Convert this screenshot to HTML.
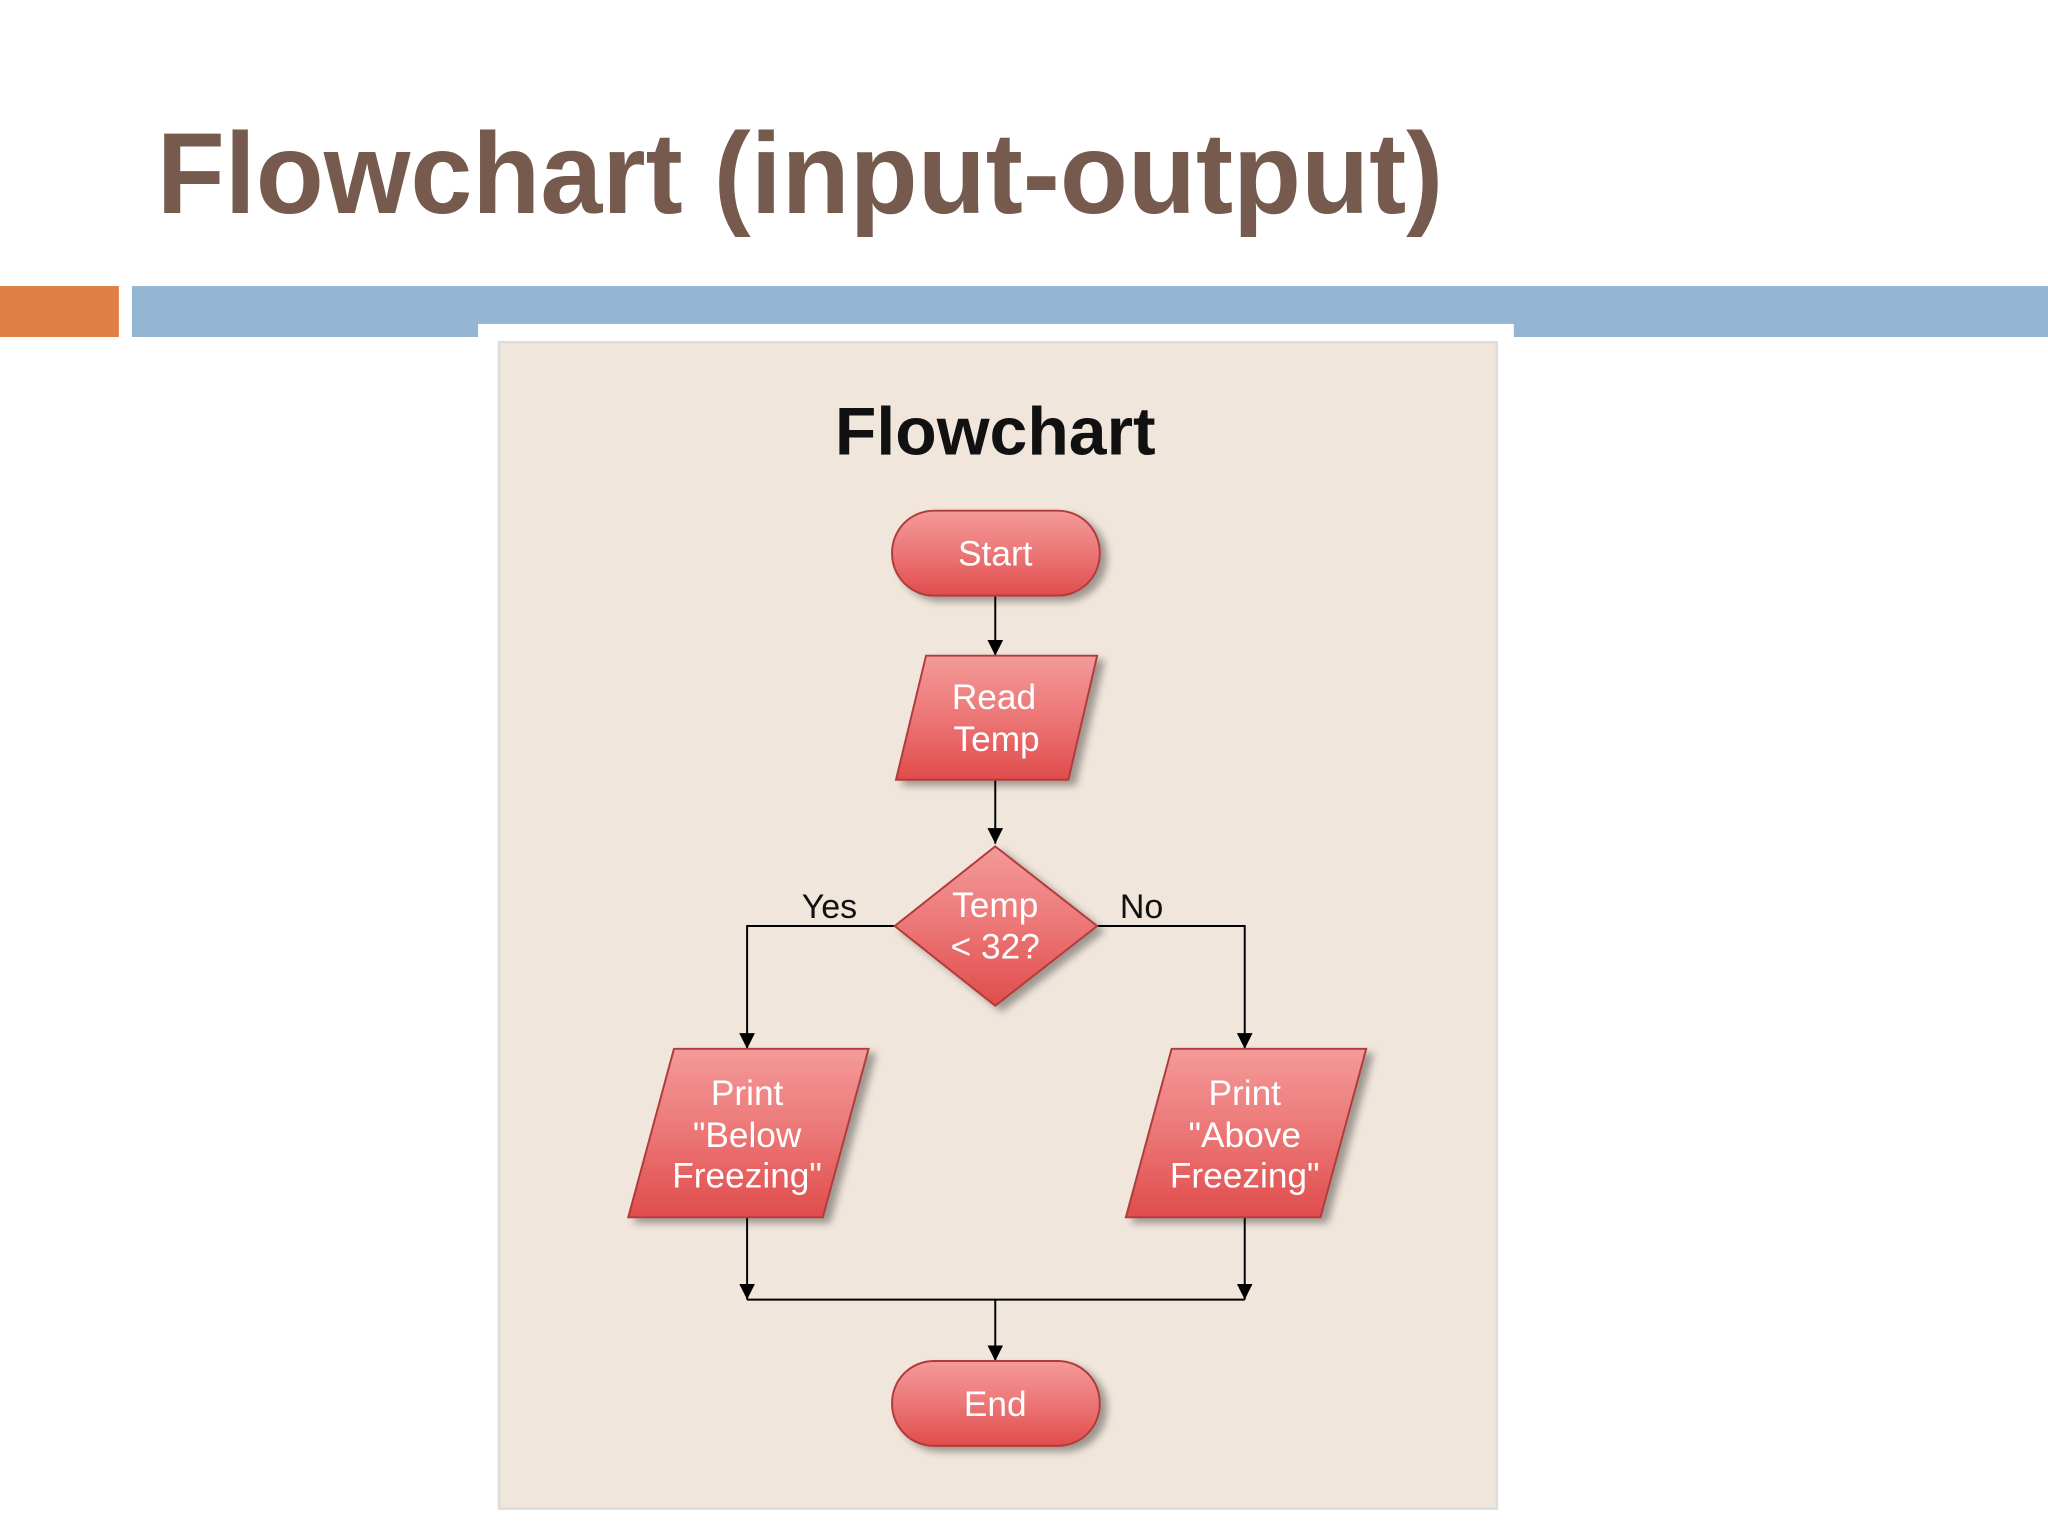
<!DOCTYPE html>
<html><head><meta charset="utf-8"><style>
html,body{margin:0;padding:0;background:#fff;width:2048px;height:1536px;overflow:hidden}
svg{display:block}
</style></head><body>
<svg width="2048" height="1536" viewBox="0 0 1568 1176" xmlns="http://www.w3.org/2000/svg">
<defs>
<linearGradient id="g" x1="0" y1="0" x2="0" y2="1">
<stop offset="0" stop-color="#f49a9a"/><stop offset="0.5" stop-color="#ec7676"/><stop offset="1" stop-color="#e04c4c"/>
</linearGradient>
<filter id="sh" x="-20%" y="-20%" width="150%" height="150%"><feGaussianBlur in="SourceAlpha" stdDeviation="3"/><feOffset dx="5" dy="4"/><feComponentTransfer><feFuncA type="linear" slope="0.35"/></feComponentTransfer><feMerge><feMergeNode/><feMergeNode in="SourceGraphic"/></feMerge></filter>
<marker id="a" markerWidth="12" markerHeight="12" refX="10" refY="5" orient="auto" markerUnits="userSpaceOnUse" viewBox="0 0 10 10"><path d="M0,0 L10,5 L0,10z" fill="#000"/></marker>
</defs>
<text x="120" y="163" font-family="Liberation Sans, sans-serif" font-weight="bold" font-size="88" fill="#775a4e" textLength="985" lengthAdjust="spacingAndGlyphs">Flowchart (input-output)</text>
<rect x="0" y="219" width="91" height="39" fill="#e07f45"/>
<rect x="101" y="219" width="1467" height="39" fill="#94b6d2"/>
<rect x="366" y="248" width="793" height="928" fill="#fff"/>
<rect x="382" y="262" width="764" height="893" fill="#f0e6dc" stroke="#ddd" stroke-width="2"/>
<text x="762" y="348" text-anchor="middle" font-family="Liberation Sans, sans-serif" font-weight="bold" font-size="52" fill="#111">Flowchart</text>
<g stroke="#000" stroke-width="1.5" fill="none">
<line x1="762" y1="456" x2="762" y2="502" marker-end="url(#a)"/>
<line x1="762" y1="597" x2="762" y2="646" marker-end="url(#a)"/>
<polyline points="685,709 572,709 572,803" marker-end="url(#a)"/>
<polyline points="840,709 953,709 953,803" marker-end="url(#a)"/>
<line x1="572" y1="932" x2="572" y2="995" marker-end="url(#a)"/>
<line x1="953" y1="932" x2="953" y2="995" marker-end="url(#a)"/>
<line x1="572" y1="995" x2="953" y2="995"/>
<line x1="762" y1="995" x2="762" y2="1042" marker-end="url(#a)"/>
</g>
<g fill="url(#g)" stroke="#b03a3a" stroke-width="1.5" filter="url(#sh)">
<rect x="683" y="391" width="159" height="65" rx="32"/>
<polygon points="709,502 840,502 818,597 686,597"/>
<polygon points="762,648 840,709 762,770 685,709"/>
<polygon points="516,803 665,803 630,932 481,932"/>
<polygon points="897,803 1046,803 1011,932 862,932"/>
<rect x="683" y="1042" width="159" height="65" rx="32"/>
</g>
<g font-family="Liberation Sans, sans-serif" font-size="27" fill="#fff" text-anchor="middle">
<text x="762" y="433">Start</text>
<text x="761" y="543">Read</text><text x="763" y="575">Temp</text>
<text x="762" y="702">Temp</text><text x="762" y="734">&lt; 32?</text>
<text x="572" y="846">Print</text><text x="572" y="878">"Below</text><text x="572" y="909">Freezing"</text>
<text x="953" y="846">Print</text><text x="953" y="878">"Above</text><text x="953" y="909">Freezing"</text>
<text x="762" y="1084">End</text>
</g>
<g font-family="Liberation Sans, sans-serif" font-size="26" fill="#111" text-anchor="middle">
<text x="635" y="703">Yes</text><text x="874" y="703">No</text>
</g>
</svg>
</body></html>
